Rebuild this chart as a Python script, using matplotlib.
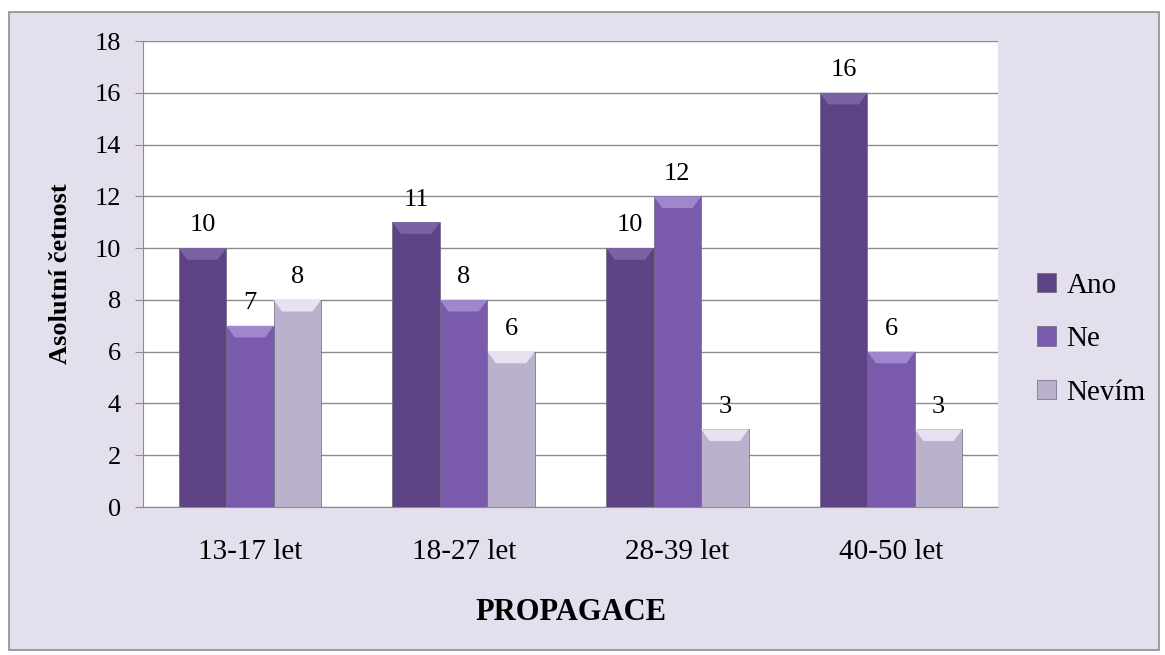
import numpy as np
import matplotlib.pyplot as plt
from matplotlib.patches import Rectangle, Polygon

# age groups and answer counts
groups = ["13-17 let", "18-27 let", "28-39 let", "40-50 let"]
ano = [10, 11, 10, 16]
ne = [7, 8, 12, 6]
nevim = [8, 6, 3, 3]

series = [("Ano", ano, "#5e4384", "#7c62a2"),
          ("Ne", ne, "#7a5aab", "#a086cc"),
          ("Nevím", nevim, "#bab1cd", "#e7e1f1")]

plt.rcParams['font.family'] = ['Liberation Serif', 'DejaVu Serif']

fig = plt.figure(figsize=(11.65, 6.55), dpi=100, facecolor="white")
# outer frame of the chart
fig.patches.append(Rectangle((9 / 1165, 1 - 650 / 655), 1150 / 1165, 638 / 655,
                             transform=fig.transFigure, facecolor="#e4dfec",
                             edgecolor="#8c8c8c", linewidth=1.2, zorder=-5))

ax = fig.add_axes([143 / 1165, 1 - 507 / 655, 855 / 1165, 466 / 655])
ax.set_zorder(2)
ax.set_facecolor("white")

x = np.arange(len(groups))
w = 0.222
for i, (name, vals, col, light) in enumerate(series):
    pos = x + (i - 1) * w
    ax.bar(pos, vals, w, color=col, edgecolor="#6e6680", linewidth=0.5,
           label=name, zorder=3)
    for p, v in zip(pos, vals):
        # bevelled highlight along the top edge
        b = 0.04
        top = [(p - w / 2, v), (p + w / 2, v), (p + w / 2 - b, v - 0.45), (p - w / 2 + b, v - 0.45)]
        ax.add_patch(Polygon(top, closed=True, facecolor=light, edgecolor="none", zorder=4))
        ax.text(p, v + 0.45, str(v), ha="center", va="bottom", fontsize=19, zorder=5)

ax.set_ylim(0, 18)
ax.set_yticks(range(0, 19, 2))
ax.set_xlim(-0.5, 3.5)
ax.set_xticks(x)
ax.set_xticklabels(groups, fontsize=21)
ax.tick_params(axis="y", labelsize=19, length=6, color="#8c8c8c", pad=10)
ax.tick_params(axis="x", length=0, pad=23)
ax.yaxis.grid(True, color="#8c8c8c", linewidth=1)
ax.set_axisbelow(True)
for s in ["top", "right"]:
    ax.spines[s].set_visible(False)
ax.spines["left"].set_color("#8c8c8c")
ax.spines["bottom"].set_color("#8c8c8c")

ax.set_ylabel("Asolutní četnost", fontsize=19, fontweight="bold", labelpad=16)
ax.set_xlabel("PROPAGACE", fontsize=22, fontweight="bold", labelpad=24)

leg = ax.legend(loc="center left", bbox_to_anchor=(1.015, 0.36), frameon=False,
                fontsize=21, handlelength=0.65, handleheight=0.65,
                handletextpad=0.35, labelspacing=0.95)

fig.savefig("out.png", dpi=100, facecolor=fig.get_facecolor())
